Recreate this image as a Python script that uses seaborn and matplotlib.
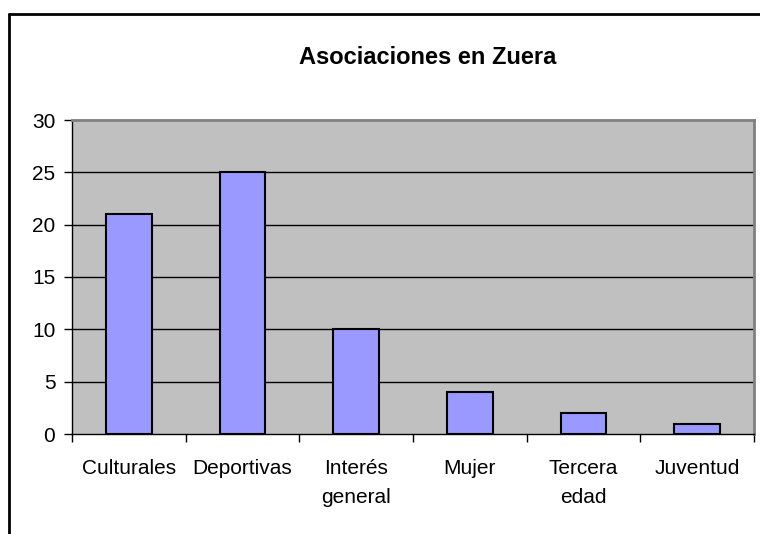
import matplotlib
matplotlib.use("Agg")
import matplotlib.pyplot as plt
import seaborn as sns
import pandas as pd
import numpy as np
from matplotlib.lines import Line2D

categories = ["Culturales", "Deportivas", "Interés\ngeneral", "Mujer", "Tercera\nedad", "Juventud"]
values = [21, 25, 10, 4, 2, 1]
yticks = [0, 5, 10, 15, 20, 25, 30]
title = "Asociaciones en Zuera"

sns.set_theme(style="white")
plt.rcParams['font.family'] = ['Liberation Sans', 'DejaVu Sans']
plt.rcParams['text.color'] = 'black'
plt.rcParams['xtick.color'] = 'black'
plt.rcParams['ytick.color'] = 'black'
plt.rcParams['xtick.labelcolor'] = 'black'
plt.rcParams['ytick.labelcolor'] = 'black'

df = pd.DataFrame({"cat": categories, "val": values})

fig = plt.figure(figsize=(7.6, 5.34), dpi=100)
fig.patch.set_facecolor("white")
ax = fig.add_axes([72/760, 1-434/534, (754-72)/760, (434-120)/534])
ax.set_facecolor("#C0C0C0")

sns.barplot(data=df, x="cat", y="val", color="#9999FF", width=0.4,
            edgecolor="black", linewidth=1.5, saturation=1, ax=ax, zorder=3)

ax.set_ylim(0, 30)
ax.set_xlim(-0.5, len(categories) - 0.5)
ax.set_yticks(yticks)
ax.set_yticklabels([str(t) for t in yticks], fontsize=15, color="black")
ax.set_xticks(range(len(categories)))
ax.set_xticklabels(categories, fontsize=15, linespacing=1.65, color="black")
ax.set_xticks(np.arange(-0.5, len(categories), 1.0), minor=True)
ax.tick_params(axis="x", which="major", length=0, pad=18, colors="black")
ax.tick_params(axis="x", which="minor", length=6, width=1, direction="out", color="black", bottom=True)
ax.tick_params(axis="y", which="major", length=6, width=1, direction="out", pad=6, color="black", left=True)
ax.set_xlabel("")
ax.set_ylabel("")

for t in yticks[1:-1]:
    ax.axhline(t, color="black", linewidth=1, zorder=1)

ax.spines["left"].set_color("black")
ax.spines["left"].set_linewidth(1)
ax.spines["bottom"].set_color("black")
ax.spines["bottom"].set_linewidth(1)
ax.spines["top"].set_color("#808080")
ax.spines["top"].set_linewidth(2)
ax.spines["right"].set_color("#808080")
ax.spines["right"].set_linewidth(2)
for s in ax.spines.values():
    s.set_visible(True)
    s.set_zorder(4)

fig.text(428/760, 1-58/534, title, ha="center", va="center", fontsize=17,
         fontweight="bold", color="black")

# outer chart frame (left and top edges visible)
fig.add_artist(Line2D([9/760, 9/760], [0, 1-14/534], color="black", linewidth=2, transform=fig.transFigure))
fig.add_artist(Line2D([9/760, 1], [1-14/534, 1-14/534], color="black", linewidth=2, transform=fig.transFigure))

fig.savefig("out.png", dpi=100, facecolor="white")
